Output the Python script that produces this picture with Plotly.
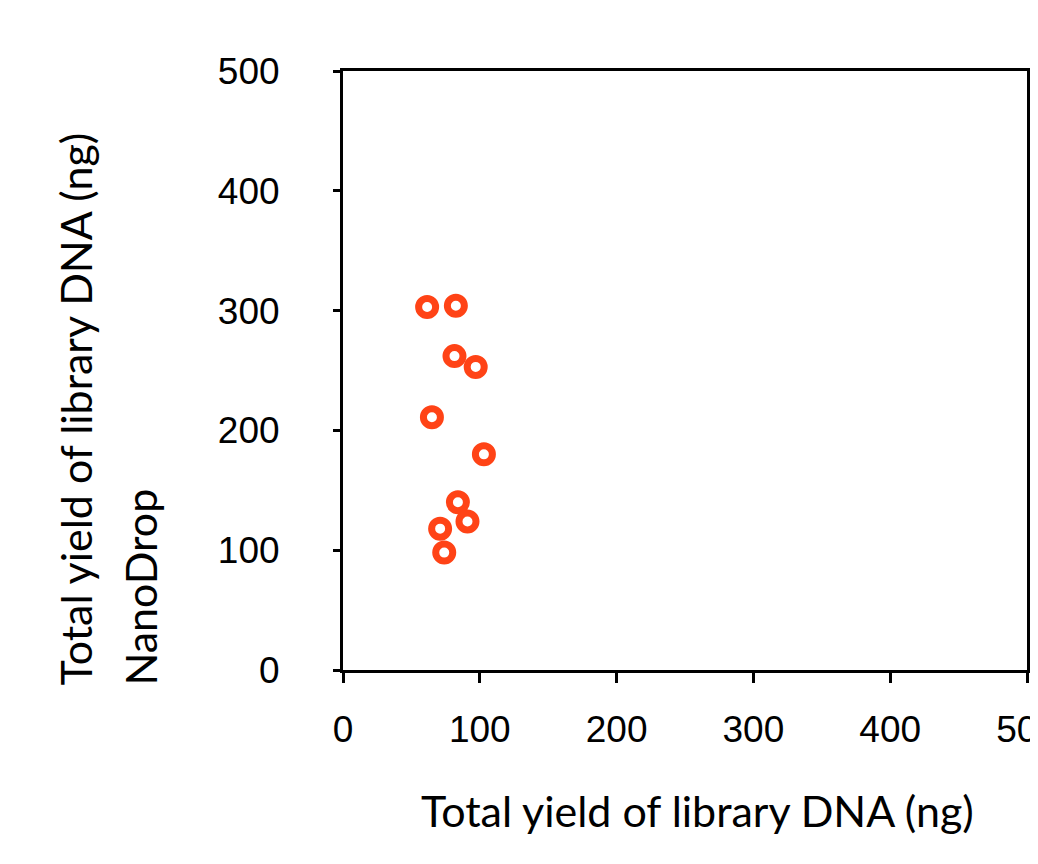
import plotly.graph_objects as go

# Data (x: library DNA yield, y: NanoDrop yield)
x_vals = [61.5, 82.5, 81.5, 97.0, 65.0, 103.0, 84.0, 91.0, 71.0, 74.0]
y_vals = [303, 304, 262, 253, 211, 180, 140, 124, 118, 98]

x_ticks = [0, 100, 200, 300, 400, 500]
y_ticks = [0, 100, 200, 300, 400, 500]

x_title = "Total yield of library DNA (ng)"
y_title_1 = "Total yield of library DNA (ng)"
y_title_2 = "NanoDrop"

OFF = 8  # page body margin
W, H = 1038 - OFF, 864 - OFF
L, T = 343 - OFF, 71 - OFF
R = W - (1027 - OFF)
B = H - (670 - OFF)
pw, ph = W - L - R, H - T - B

def px(xp):
    return (xp - OFF - L) / pw

def py(yp):
    return (H - B - (yp - OFF)) / ph

fig = go.Figure()
fig.add_trace(go.Scatter(
    x=x_vals, y=y_vals, mode="markers",
    marker=dict(symbol="circle-open", size=17, color="#FF4316",
                line=dict(width=7, color="#FF4316")),
    showlegend=False, cliponaxis=False,
))

axis_common = dict(
    showgrid=False, zeroline=False, showline=True, linecolor="black",
    linewidth=3, mirror=True, ticks="outside", tickwidth=3,
    tickcolor="black", range=[0, 500], ticklabeloverflow="allow",
    automargin=False,
    tickfont=dict(family="Liberation Sans, Arial, sans-serif", size=37, color="black"),
)

fig.update_xaxes(**axis_common, tickvals=x_ticks, ticklen=10, ticklabelstandoff=15)
fig.update_yaxes(**axis_common, tickvals=y_ticks, ticklen=7, ticklabelstandoff=46)

title_font = dict(family="Lato, sans-serif", size=43, color="black")
fig.add_annotation(text=x_title, xref="paper", yref="paper",
                   x=px(697), y=py(810), xanchor="center", yanchor="middle",
                   showarrow=False, font=title_font)
fig.add_annotation(text=y_title_1, xref="paper", yref="paper",
                   x=px(75), y=py(688), xanchor="center", yanchor="bottom",
                   textangle=-90, showarrow=False, font=title_font)
fig.add_annotation(text=y_title_2, xref="paper", yref="paper",
                   x=px(140), y=py(688), xanchor="center", yanchor="bottom",
                   textangle=-90, showarrow=False, font=title_font)

fig.update_layout(
    width=W, height=H, margin=dict(l=L, r=R, t=T, b=B, pad=0, autoexpand=False),
    plot_bgcolor="white", paper_bgcolor="white",
)

fig.write_html("out.html")
